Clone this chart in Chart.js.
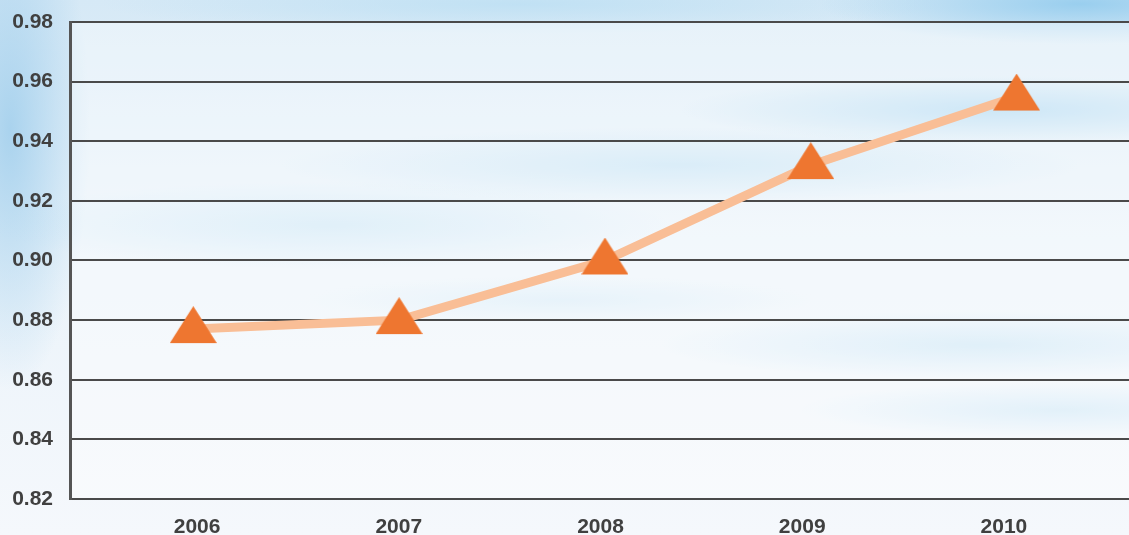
<!DOCTYPE html>
<html>
<head>
<meta charset="utf-8">
<script src="https://cdn.jsdelivr.net/npm/chart.js@4"></script>
<style>
  html, body { margin: 0; padding: 0; }
  body {
    width: 1129px;
    height: 535px;
    overflow: hidden;
    background:
      radial-gradient(ellipse 260px 40px at 1080px 4px, rgba(150, 205, 238, 0.95), rgba(150, 205, 238, 0)),
      radial-gradient(ellipse 320px 34px at 1000px 110px, rgba(165, 212, 240, 0.85), rgba(165, 212, 240, 0)),
      radial-gradient(ellipse 400px 38px at 680px 165px, rgba(180, 219, 242, 0.7), rgba(180, 219, 242, 0)),
      radial-gradient(ellipse 340px 44px at 330px 225px, rgba(185, 222, 243, 0.6), rgba(185, 222, 243, 0)),
      radial-gradient(ellipse 320px 34px at 980px 345px, rgba(180, 219, 242, 0.6), rgba(180, 219, 242, 0)),
      radial-gradient(ellipse 260px 28px at 1060px 410px, rgba(180, 219, 242, 0.55), rgba(180, 219, 242, 0)),
      radial-gradient(ellipse 260px 24px at 560px 300px, rgba(190, 224, 243, 0.45), rgba(190, 224, 243, 0)),
      radial-gradient(ellipse 80px 260px at 10px 130px, rgba(160, 206, 236, 0.85), rgba(160, 206, 236, 0)),
      radial-gradient(ellipse 420px 30px at 520px 4px, rgba(185, 222, 243, 0.75), rgba(185, 222, 243, 0)),
      linear-gradient(to bottom, #d6e9f6 0%, #eaf3fa 45%, #f5f8fc 100%);
  }
  #chart { position: absolute; left: 0; top: 0; }
</style>
</head>
<body>
<canvas id="chart" width="1129" height="535"></canvas>
<script>
// Data
const years = [2006, 2007, 2008, 2009, 2010];
const ratio = [0.877, 0.880, 0.900, 0.932, 0.955];
const yTicks = [0.82, 0.84, 0.86, 0.88, 0.90, 0.92, 0.94, 0.96, 0.98];

const lineColor = "#F9BE96";
const markerColor = "#EE7630";
const textColor = "#404040";
const gridColor = "#4a4a4a";

// triangle marker drawn on a small canvas (apex on top, centred a bit low like the original)
function makeTriangle() {
  const c = document.createElement("canvas");
  c.width = 47;
  c.height = 46;
  const g = c.getContext("2d");
  g.fillStyle = markerColor;
  g.beginPath();
  g.moveTo(23.5, 0);
  g.lineTo(47, 37);
  g.lineTo(0, 37);
  g.closePath();
  g.fill();
  return c;
}

// light veil over the plot area
const plotVeil = {
  id: "plotVeil",
  beforeDraw(chart) {
    const { ctx, chartArea } = chart;
    ctx.save();
    ctx.fillStyle = "rgba(255,255,255,0.4)";
    ctx.fillRect(chartArea.left, chartArea.top, chartArea.right - chartArea.left, chartArea.bottom - chartArea.top);
    ctx.restore();
  },
};

const font = { family: "'Liberation Sans', Arial, sans-serif", size: 21, weight: "bold" };

new Chart(document.getElementById("chart"), {
  type: "line",
  data: {
    datasets: [
      {
        data: years.map((yr, i) => ({ x: yr, y: ratio[i] })),
        borderColor: lineColor,
        borderWidth: 9,
        tension: 0,
        pointStyle: makeTriangle(),
        pointRadius: 5,
        pointHoverRadius: 5,
      },
    ],
  },
  options: {
    responsive: false,
    animation: false,
    layout: { autoPadding: false, padding: { top: 22, right: 0, bottom: 0, left: 0 } },
    plugins: { legend: { display: false }, tooltip: { enabled: false } },
    scales: {
      x: {
        type: "linear",
        display: false,
        min: 2005.401,
        max: 2010.546,
      },
      xLabels: {
        type: "linear",
        position: "bottom",
        min: 2005.37,
        max: 2010.62,
        afterBuildTicks: (axis) => {
          axis.ticks = years.map((v) => ({ value: v }));
        },
        afterFit: (axis) => {
          axis.height = 36;
          axis.paddingLeft = 0;
          axis.paddingRight = 0;
        },
        grid: { display: false },
        border: { display: false },
        ticks: {
          font,
          color: textColor,
          padding: 8,
          maxRotation: 0,
          autoSkip: false,
          callback: (v) => String(v),
        },
      },
      y: {
        min: 0.82,
        max: 0.98,
        afterBuildTicks: (axis) => {
          axis.ticks = yTicks.map((v) => ({ value: v }));
        },
        afterFit: (axis) => {
          axis.width = 70;
          axis.paddingTop = 0;
          axis.paddingBottom = 0;
        },
        grid: { color: gridColor, lineWidth: 2, drawTicks: false },
        border: { display: true, color: "#555555", width: 3 },
        ticks: {
          font,
          color: textColor,
          padding: 17,
          callback: (v) => v.toFixed(2),
        },
      },
    },
  },
  plugins: [plotVeil],
});
</script>
</body>
</html>
